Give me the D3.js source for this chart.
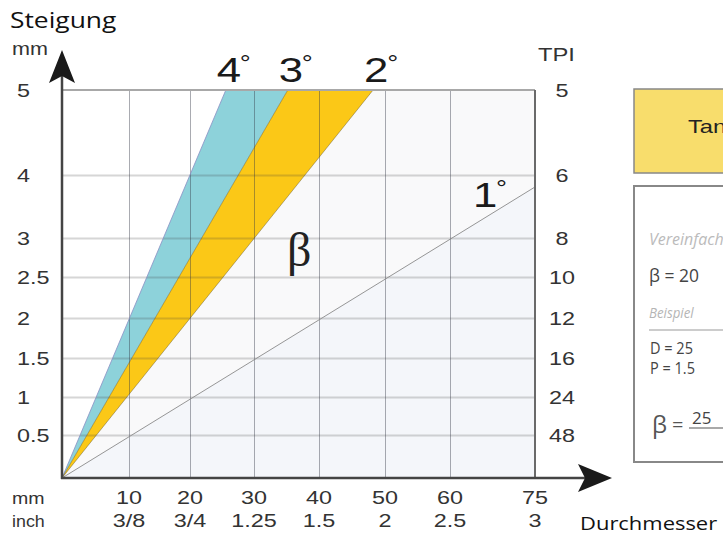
<!DOCTYPE html>
<meta charset="utf-8">
<style>
html,body{
  margin:0;
  background:#fff;
}
svg{
  display:block;
  font-family:"Liberation Sans", Arial, sans-serif;
}
</style>
<script src="https://cdn.jsdelivr.net/npm/d3@7"></script>
<body>
<script>

// values
var diameters = [10, 20, 30, 40, 50, 60, 75];
var inches = ["3/8", "3/4", "1.25", "1.5", "2", "2.5", "3"];
var pitches = [0.5, 1, 1.5, 2, 2.5, 3, 4, 5];
var tpi = [48, 24, 16, 12, 10, 8, 6, 5];
var angles = [4, 3, 2, 1];
var angleEndD = [25.6, 35.2, 48.2, 75];
var angleEndP = [5, 5, 5, 3.81];

var width = 723, height = 536;

var svg = d3.select("body").append("svg")
    .attr("width", width)
    .attr("height", height);

// the drawing has uneven spacing on both axes, so piecewise scales
var x = d3.scaleLinear()
    .domain([0].concat(diameters))
    .range([62, 129, 190, 254, 319, 385, 450, 535]);

var y = d3.scaleLinear()
    .domain([0].concat(pitches))
    .range([478, 435, 397, 358, 318, 277, 238, 175, 90]);

var dMax = diameters[diameters.length - 1],
    pMax = pitches[pitches.length - 1];

var line = d3.line()
    .x(function(d){ return x(d[0]); })
    .y(function(d){ return y(d[1]); });

// text is drawn a bit wider than the font, like the original
function label(g, s, px, py, size, stretch, anchor){
  return g.append("text")
    .attr("transform", "translate(" + px + "," + py + ") scale(" + stretch + ",1)")
    .attr("font-size", size)
    .attr("text-anchor", anchor || "start")
    .text(s);
}

var plot = svg.append("g");

// background
plot.append("rect")
    .attr("x", x(0)).attr("y", y(pMax))
    .attr("width", x(dMax) - x(0)).attr("height", y(0) - y(pMax))
    .attr("fill", "#f9f9fa");

plot.append("path")
    .attr("d", line([[0, 0], [0, pMax], [angleEndD[0], pMax]]) + "Z")
    .attr("fill", "#fff");

plot.append("path")
    .attr("d", line([[0, 0], [angleEndD[3], angleEndP[3]], [dMax, 0]]) + "Z")
    .attr("fill", "#f4f6fa");

// bands between 4°-3° and 3°-2°
var bandColors = ["#8dd2da", "#fbc817"];
for (var i = 0; i < 2; i++){
  plot.append("path")
    .attr("d", line([[0, 0], [angleEndD[i], angleEndP[i]], [angleEndD[i + 1], angleEndP[i + 1]]]) + "Z")
    .attr("fill", bandColors[i]);
}

// grid
plot.append("g")
    .attr("transform", "translate(0," + y(0) + ")")
    .call(d3.axisBottom(x).tickValues(diameters.slice(0, -1)).tickSize(-(y(0) - y(pMax))).tickFormat(""))
    .call(function(g){
      g.select(".domain").remove();
      g.selectAll("line").attr("stroke", "rgba(50,55,70,0.42)").attr("stroke-width", 1);
    });

plot.append("g")
    .attr("transform", "translate(" + x(0) + ",0)")
    .call(d3.axisLeft(y).tickValues(pitches.slice(0, -1)).tickSize(-(x(dMax) - x(0))).tickFormat(""))
    .call(function(g){
      g.select(".domain").remove();
      g.selectAll("line").attr("stroke", "rgba(60,60,60,0.21)").attr("stroke-width", 2);
    });

// helix angle lines
angles.forEach(function(a, i){
  plot.append("path")
    .attr("d", line([[0, 0], [angleEndD[i], angleEndP[i]]]))
    .attr("fill", "none")
    .attr("stroke", i == 0 ? "#8a8fc4" : (i == 3 ? "#8a8a8a" : "rgba(60,50,20,0.45)"))
    .attr("stroke-width", i == 3 ? 0.9 : 0.8);
});

// frame
plot.append("line")
    .attr("x1", x(0)).attr("x2", x(dMax))
    .attr("y1", y(pMax)).attr("y2", y(pMax))
    .attr("stroke", "#a8a8a8").attr("stroke-width", 2);

plot.append("line")
    .attr("x1", x(dMax)).attr("x2", x(dMax))
    .attr("y1", y(pMax)).attr("y2", y(0))
    .attr("stroke", "#6a6a6a").attr("stroke-width", 2);

// axes with arrows
var x0 = x(0), y0 = y(0);
plot.append("line")
    .attr("x1", x0).attr("x2", x0)
    .attr("y1", y0 + 1).attr("y2", y(pMax) - 14)
    .attr("stroke", "#444").attr("stroke-width", 2.5);

plot.append("line")
    .attr("x1", x0 - 1).attr("x2", x(dMax) + 50)
    .attr("y1", y0).attr("y2", y0)
    .attr("stroke", "#444").attr("stroke-width", 2.5);

var tipY = y(pMax) - 40, baseY = y(pMax) - 7;
plot.append("path")
    .attr("d", "M" + x0 + "," + tipY + "L" + (x0 + 13) + "," + baseY + "L" + x0 + "," + (baseY - 7) + "L" + (x0 - 13) + "," + baseY + "Z")
    .attr("fill", "#1a1a1a");

var tipX = x(dMax) + 77, baseX = x(dMax) + 43;
plot.append("path")
    .attr("d", "M" + tipX + "," + y0 + "L" + baseX + "," + (y0 - 14) + "L" + (baseX + 7) + "," + y0 + "L" + baseX + "," + (y0 + 14) + "Z")
    .attr("fill", "#1a1a1a");

// labels
var labels = svg.append("g").attr("fill", "#333");

label(labels, "Steigung", 10, 28, 22, 1.2).attr("font-family", "'Open Sans', sans-serif").attr("fill", "#111");
label(labels, "mm", 12, 55, 18, 1.2);
label(labels, "TPI", 538, 61, 19, 1.25);

pitches.forEach(function(p, i){
  label(labels, String(p), 17, y(p) + 6.5, 18, 1.3);
  label(labels, String(tpi[i]), 562, y(p) + 6.5, 18, 1.3, "middle");
});

label(labels, "mm", 12, 504, 17, 1.15);
label(labels, "inch", 12, 527, 17, 1.05);
diameters.forEach(function(d, i){
  label(labels, String(d), x(d), 504, 18, 1.3, "middle");
  label(labels, inches[i], x(d), 527, 18, 1.3, "middle");
});

label(labels, "Durchmesser", 580, 530, 18, 1.22).attr("font-family", "'Open Sans', sans-serif").attr("fill", "#111");

angles.forEach(function(a, i){
  var t;
  if (angleEndP[i] >= pMax) {
    t = label(labels, String(a), x(angleEndD[i]) + 8, y(pMax) - 8, 35, 1.25, "middle");
  } else {
    t = label(labels, String(a), x(angleEndD[i]) - 62, y(angleEndP[i]) + 20, 35, 1.25);
  }
  t.attr("fill", "#1a1a1a");
  t.append("tspan").attr("font-size", 22).attr("dy", -11).attr("dx", -1).text("°");
});

label(labels, "β", 287, 266, 48, 1.0)
    .attr("font-family", "'Liberation Serif', serif")
    .attr("fill", "#222");

// side panel, cut by the right edge
var panel = svg.append("g").attr("font-family", "'Open Sans', sans-serif");

panel.append("rect")
    .attr("x", 634).attr("y", 89).attr("width", 120).attr("height", 84)
    .attr("fill", "#f8dd6c").attr("stroke", "#888").attr("stroke-width", 1.5);
label(panel, "Tangens", 688, 133, 19, 1.25).attr("font-family", "'Liberation Sans', Arial, sans-serif").attr("fill", "#222");

panel.append("rect")
    .attr("x", 634).attr("y", 186).attr("width", 120).attr("height", 276)
    .attr("fill", "#fff").attr("stroke", "#888").attr("stroke-width", 2);

label(panel, "Vereinfachte Formel", 649, 245, 16, 1.0).attr("font-style", "italic").attr("fill", "#bbb");
label(panel, "β = 20", 649, 282, 19, 0.92).attr("fill", "#444");
label(panel, "Beispiel", 649, 318, 14, 0.95).attr("font-style", "italic").attr("fill", "#b5b5b5");
panel.append("line").attr("x1", 649).attr("x2", 723).attr("y1", 330).attr("y2", 330)
    .attr("stroke", "#ccc").attr("stroke-width", 2);
label(panel, "D = 25", 650, 354, 16.5, 0.88).attr("fill", "#444");
label(panel, "P = 1.5", 650, 374, 16.5, 0.88).attr("fill", "#444");
label(panel, "β", 652, 433, 24, 1.0).attr("fill", "#555");
label(panel, "=", 672, 432, 20, 1.0).attr("fill", "#555");
label(panel, "25", 692, 424, 17, 1.0).attr("fill", "#444");
panel.append("line").attr("x1", 689).attr("x2", 723).attr("y1", 428).attr("y2", 428)
    .attr("stroke", "#555").attr("stroke-width", 1.2);

</script>
</body>
